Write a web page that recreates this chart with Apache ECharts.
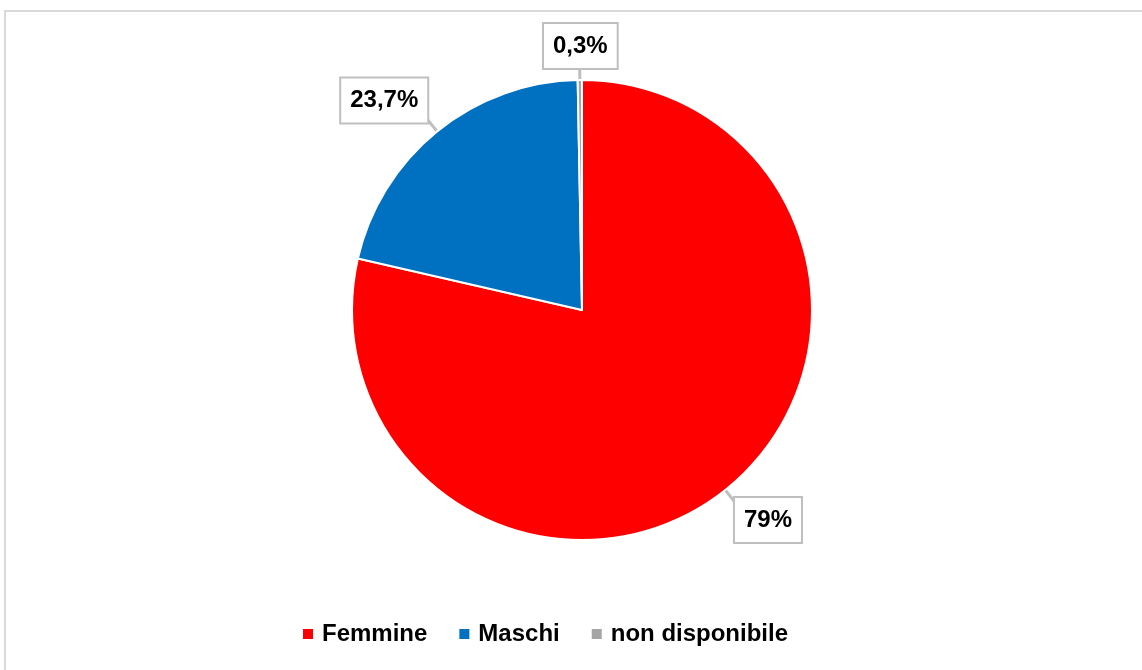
<!DOCTYPE html>
<html lang="it">
	<head>
		<meta charset="UTF-8"/>
		<title></title>
		<script src="https://cdn.jsdelivr.net/npm/echarts@6/dist/echarts.min.js"></script>
		<style>
			html, body { margin: 0; padding: 0; background: #fff; }
		</style>
	</head>
	<body>
		<div id="main" style="width: 1142px;height: 670px;"></div>
		<script type="text/javascript">
			// dati
			var categorie = ['Femmine', 'Maschi', 'non disponibile'];
			var valori = [78.6, 21.1, 0.3];
			var etichette = ['79%', '23,7%', '0,3%'];
			var colori = ['#FF0000', '#0070C0', '#A5A5A5'];

			var myChart = echarts.init(document.getElementById('main'));

			var dati = categorie.map(function (c, i) {
				return { name: c, value: valori[i], itemStyle: { color: colori[i] } };
			});

			// spostamento dei riquadri delle etichette (stile callout di Excel)
			var spostaEtichette = [[-10, 19], [10, -20], [48, -20]];

			var option = {
				backgroundColor: '#fff',
				animation: false,
				textStyle: { fontFamily: 'Liberation Sans, Arial, sans-serif' },
				graphic: [{
					type: 'rect',
					shape: { x: 5, y: 11, width: 1150, height: 700 },
					style: { fill: 'none', stroke: '#d9d9d9', lineWidth: 2 },
					silent: true
				}],
				legend: {
					bottom: 19,
					left: 296,
					itemWidth: 12,
					itemHeight: 12,
					itemGap: 30,
					icon: 'rect',
					textStyle: { fontSize: 24, fontWeight: 'bold', color: '#000', padding: [0, 0, 0, 3] },
					data: categorie
				},
				series: [{
					type: 'pie',
					radius: 230,
					center: [582, 310],
					startAngle: 90,
					clockwise: true,
					data: dati,
					itemStyle: { borderColor: '#fff', borderWidth: 2 },
					label: {
						show: true,
						position: 'outside',
						formatter: function (p) { return etichette[p.dataIndex]; },
						fontSize: 24,
						fontWeight: 'bold',
						color: '#000',
						backgroundColor: '#fff',
						borderColor: '#bfbfbf',
						borderWidth: 2,
						padding: [11, 9, 9, 9]
					},
					labelLine: {
						show: true,
						length: 14,
						length2: 6,
						lineStyle: { color: '#bfbfbf', width: 3 }
					},
					labelLayout: function (p) {
						var s = spostaEtichette[p.dataIndex];
						return { dx: s[0], dy: s[1] };
					}
				}]
			};

			myChart.setOption(option);
		</script>
	</body>
</html>
